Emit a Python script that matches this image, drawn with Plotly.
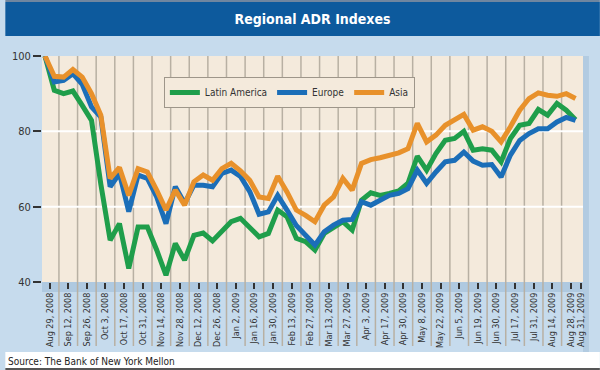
import plotly.graph_objects as go

# ---------------- data ----------------
tick_labels = [
    "Aug 29, 2008", "Sep 12, 2008", "Sep 26, 2008", "Oct 3, 2008", "Oct 17, 2008",
    "Oct 31, 2008", "Nov 14, 2008", "Nov 28, 2008", "Dec 12, 2008", "Dec 26, 2008",
    "Jan 2, 2009", "Jan 16, 2009", "Jan 30, 2009", "Feb 13, 2009", "Feb 27, 2009",
    "Mar 13, 2009", "Mar 27, 2009", "Apr 3, 2009", "Apr 17, 2009", "Apr 30, 2009",
    "May 8, 2009", "May 22, 2009", "Jun 5, 2009", "Jun 19, 2009", "Jun 30, 2009",
    "Jul 17, 2009", "Jul 31, 2009", "Aug 14, 2009", "Aug 28, 2009", "Aug 31, 2009",
]

latin_america = [
    100, 90.9, 90.0, 90.7, 86.9, 82.9, 66.0, 51.1, 55.5, 43.6,
    54.6, 54.6, 48.5, 41.8, 50.2, 45.8, 52.4, 53.0, 50.9, 53.5,
    56.0, 56.9, 54.6, 52.0, 52.9, 59.1, 57.3, 51.6, 50.7, 48.5,
    52.9, 54.6, 56.0, 53.8, 61.7, 63.7, 63.0, 63.5, 64.2, 66.2,
    73.4, 69.7, 74.1, 77.6, 78.1, 80.0, 75.0, 75.4, 75.0, 71.9,
    78.1, 81.6, 82.1, 85.8, 84.3, 87.4, 85.6, 83.1,
]
europe = [
    100, 93.1, 93.5, 95.3, 92.5, 86.5, 83.8, 65.3, 68.8, 58.7,
    68.4, 67.5, 62.6, 55.5, 65.3, 60.9, 65.7, 65.7, 65.3, 68.8,
    69.7, 68.0, 64.0, 58.0, 58.6, 63.0, 59.1, 55.0, 52.4, 49.8,
    53.3, 55.1, 56.4, 56.6, 61.3, 60.4, 61.7, 63.0, 63.5, 64.8,
    69.7, 66.2, 69.2, 71.9, 72.3, 74.5, 72.1, 71.0, 71.2, 67.9,
    73.7, 77.6, 79.4, 80.7, 80.7, 82.5, 83.7, 82.9,
]
asia = [
    100, 94.6, 94.4, 96.4, 94.4, 90.0, 84.3, 67.5, 70.4, 63.0,
    70.1, 69.2, 64.4, 59.1, 64.4, 60.4, 66.6, 68.4, 67.0, 70.1,
    71.5, 69.5, 67.0, 62.6, 62.2, 68.1, 63.9, 59.1, 57.7, 56.0,
    60.4, 62.6, 67.5, 64.4, 71.5, 72.5, 73.0, 73.5, 74.3, 75.4,
    82.1, 77.2, 79.0, 81.6, 82.9, 84.5, 80.3, 81.2, 80.0, 77.2,
    81.2, 85.6, 88.7, 90.2, 89.6, 89.3, 90.0, 88.7,
]
y_ticks = [40, 60, 80, 100]

series = [
    ("Latin America", latin_america, "#1f9e4b"),
    ("Europe", europe, "#1b6eb8"),
    ("Asia", asia, "#e8912b"),
]

# ---------------- geometry (layout only) ----------------
W, H = 600, 370
L, R, T, B = 37, 17, 56, 88
PW, PH = W - L - R, H - T - B


def px_x(px):
    return (px - L) / PW


def px_y(py):
    return (H - B - py) / PH


n = len(asia)
xs = list(range(n))
# tick positions: midway between weekly points every two weeks, last label squeezed in
tick_pos = [0.5 + 2 * i for i in range(len(tick_labels) - 1)] + [n - 0.4]
grid_pos = [1.5 + 2 * i for i in range(len(tick_labels) - 2)]

cond = "DejaVu Sans Condensed, Liberation Sans Narrow, Arial Narrow, sans-serif"

fig = go.Figure()
for name, vals, col in series:
    fig.add_trace(go.Scatter(
        x=xs, y=vals, mode="lines", name=name,
        line=dict(color=col, width=5, shape="linear"),
        hoverinfo="skip",
    ))

shapes = []
# title banner and frame pieces
shapes.append(dict(type="rect", xref="paper", yref="paper",
                   x0=px_x(0), x1=px_x(W), y0=px_y(36), y1=px_y(2),
                   fillcolor="#0d5a9d", line=dict(width=0), layer="below"))
shapes.append(dict(type="rect", xref="paper", yref="paper",
                   x0=px_x(0), x1=px_x(W), y0=px_y(2), y1=px_y(0),
                   fillcolor="#6f86a0", line=dict(width=0), layer="below"))
# darker strip under plot and right shadow
shapes.append(dict(type="rect", xref="paper", yref="paper",
                   x0=0, x1=1, y0=px_y(292), y1=0,
                   fillcolor="#afc9e0", line=dict(width=0), layer="below"))
shapes.append(dict(type="rect", xref="paper", yref="paper",
                   x0=1, x1=px_x(589), y0=px_y(352), y1=1,
                   fillcolor="#b2cbe1", line=dict(width=0), layer="below"))
# white footer
shapes.append(dict(type="rect", xref="paper", yref="paper",
                   x0=px_x(0), x1=px_x(W), y0=px_y(H), y1=px_y(352),
                   fillcolor="#ffffff", line=dict(width=0), layer="below"))
shapes.append(dict(type="rect", xref="paper", yref="paper",
                   x0=px_x(0), x1=px_x(W), y0=px_y(H), y1=px_y(368),
                   fillcolor="#555555", line=dict(width=0), layer="below"))
# vertical grid lines (extend through label strip)
for g in grid_pos:
    shapes.append(dict(type="line", xref="x", yref="paper",
                       x0=g, x1=g, y0=px_y(346), y1=1,
                       line=dict(color="#b8b0a3", width=1.5), layer="below"))
# horizontal white grid lines
for yv in y_ticks[1:-1]:
    shapes.append(dict(type="line", xref="paper", yref="y",
                       x0=0, x1=1, y0=yv, y1=yv,
                       line=dict(color="#ffffff", width=2), layer="below"))

fig.update_layout(
    width=W, height=H,
    margin=dict(l=L, r=R, t=T, b=B, pad=0),
    paper_bgcolor="#c6dbed",
    plot_bgcolor="#f4eadc",
    shapes=shapes,
    title=dict(text="<b>Regional ADR Indexes</b>", x=0.5, xref="paper",
               xanchor="center", y=1 - 19 / H, yanchor="middle",
               font=dict(family=cond, size=14, color="#ffffff")),
    showlegend=True,
    legend=dict(orientation="h", x=px_x(160), y=px_y(77),
                xanchor="left", yanchor="top",
                bgcolor="#f4eadc", bordercolor="#9e968a", borderwidth=1,
                font=dict(family=cond, size=10, color="#333333"),
                itemwidth=30, tracegroupgap=0),
    xaxis=dict(range=[-0.32, n - 0.2], tickmode="array", tickvals=tick_pos,
               ticktext=tick_labels, tickangle=-90, ticks="outside",
               ticklen=6, tickwidth=2, tickcolor="#333333",
               showgrid=False, zeroline=False, showline=False,
               tickfont=dict(family=cond, size=9, color="#333333")),
    yaxis=dict(range=[40, 100], tickmode="array", tickvals=y_ticks,
               ticks="outside", ticklen=8, tickwidth=1.5, tickcolor="#333333",
               showgrid=False, zeroline=False, showline=False,
               tickfont=dict(family=cond, size=11, color="#333333")),
    annotations=[dict(text="Source: The Bank of New York Mellon", xref="paper",
                      yref="paper", x=px_x(1), y=px_y(361), xanchor="left",
                      yanchor="middle", showarrow=False,
                      font=dict(family=cond, size=10, color="#222222"))],
)

fig.write_html("out.html", config={"displayModeBar": False},
               post_script="document.body.style.margin='0';")
